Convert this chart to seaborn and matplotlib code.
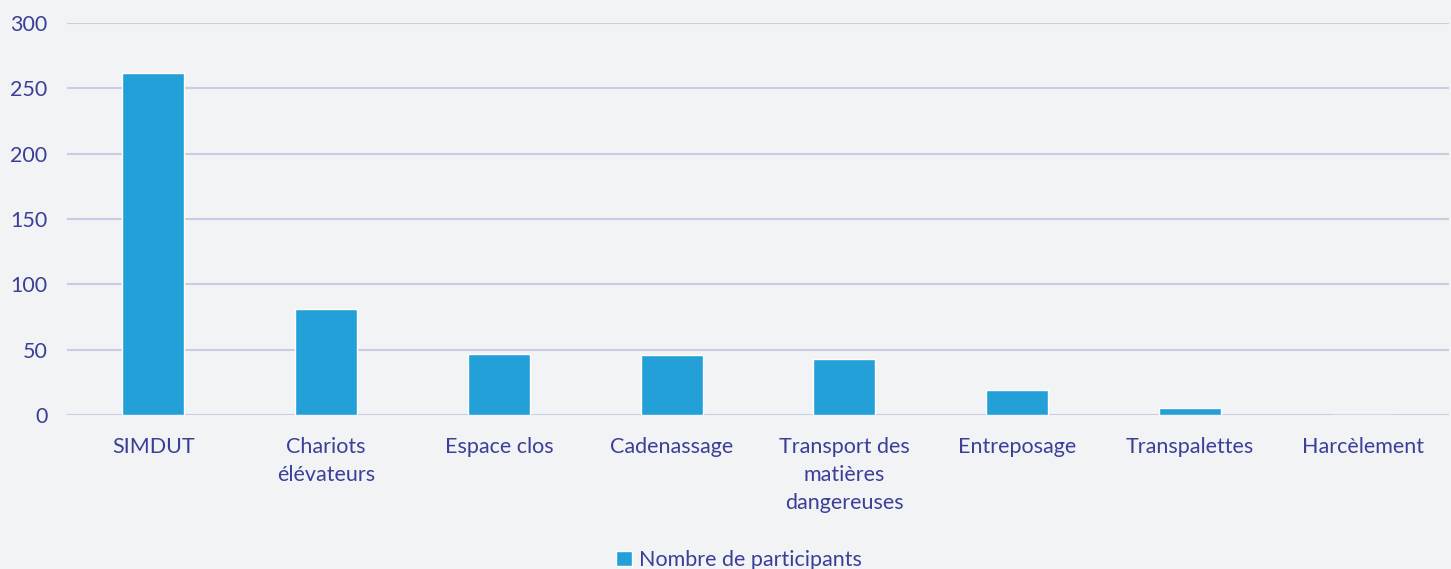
import matplotlib
matplotlib.use("Agg")
import matplotlib.pyplot as plt
import seaborn as sns
import pandas as pd

categories = ["SIMDUT", "Chariots\nélévateurs", "Espace clos", "Cadenassage",
              "Transport des\nmatières\ndangereuses", "Entreposage",
              "Transpalettes", "Harcèlement"]
participants = [262, 81, 47, 46, 43, 19, 5, 0]
series_name = "Nombre de participants"

bg = "#f2f3f5"
bar_color = "#24a0d8"
text_color = "#3b3f98"
grid_color = "#cbcbe3"

sns.set_theme(style="white")
plt.rcParams["font.family"] = ["Lato", "DejaVu Sans"]

df = pd.DataFrame({"categorie": categories, "valeur": participants})

fig = plt.figure(figsize=(14.51, 5.69), dpi=100, facecolor=bg)
ax = fig.add_axes([67 / 1451, 154 / 569, 1382 / 1451, 392 / 569], facecolor=bg)

sns.barplot(data=df, x="categorie", y="valeur", color=bar_color, width=0.36,
            saturation=1, ax=ax, label=series_name, zorder=3)

ax.set_ylim(0, 300)
ax.set_yticks(range(0, 301, 50))
ax.set_xlim(-0.5, len(categories) - 0.5)
ax.yaxis.grid(True, color=grid_color, linewidth=1.5, zorder=0)
ax.set_axisbelow(True)
for s in ax.spines.values():
    s.set_visible(False)
ax.set_xlabel("")
ax.set_ylabel("")
ax.tick_params(axis="both", length=0, labelsize=15.5, colors=text_color)
ax.tick_params(axis="y", pad=14)
ax.tick_params(axis="x", pad=16)
for lbl in ax.get_xticklabels():
    lbl.set_linespacing(1.5)
    lbl.set_verticalalignment("top")

leg = ax.legend(loc="lower center", bbox_to_anchor=(0.486, -0.445), frameon=False,
                fontsize=15.5, handlelength=0.75, handleheight=0.75,
                handletextpad=0.3, labelcolor=text_color)

fig.savefig("out.png", dpi=100, facecolor=bg)
